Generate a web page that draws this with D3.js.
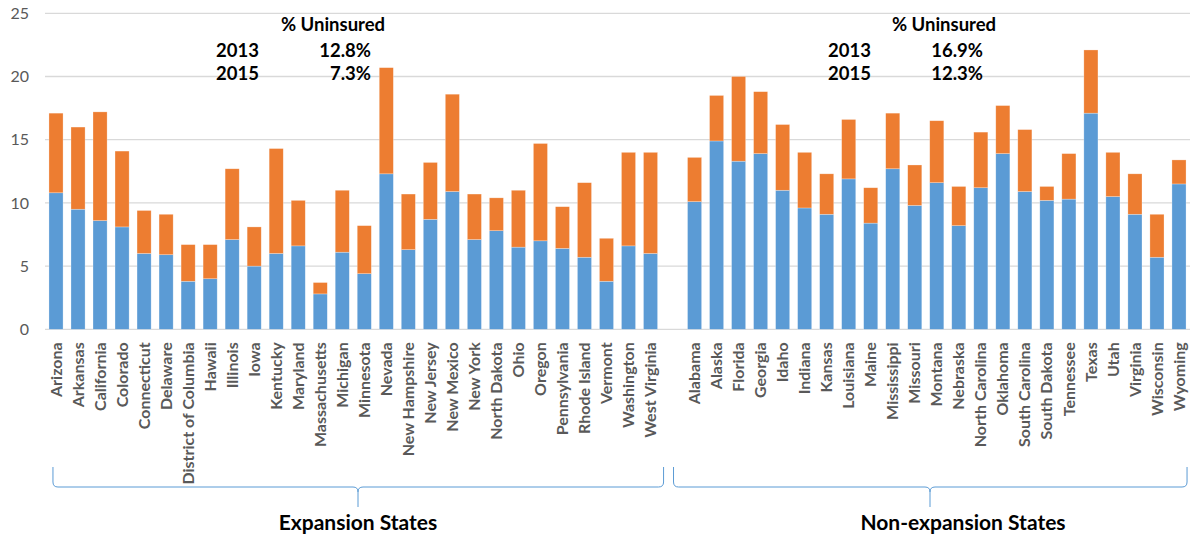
<!DOCTYPE html>
<html>
<head>
<meta charset="utf-8">
<script src="https://cdn.jsdelivr.net/npm/d3@7"></script>
<style>
  html, body { margin: 0; padding: 0; background: #fff; }
  svg { display: block; }
  text { font-family: Lato, "Open Sans", sans-serif; }
</style>
</head>
<body>
<svg id="chart" width="1193" height="535"></svg>
<script>
// Uninsured rate (%) by state, 2013 and 2015
const expansionStates = ["Arizona","Arkansas","California","Colorado","Connecticut","Delaware","District of Columbia","Hawaii","Illinois","Iowa","Kentucky","Maryland","Massachusetts","Michigan","Minnesota","Nevada","New Hampshire","New Jersey","New Mexico","New York","North Dakota","Ohio","Oregon","Pennsylvania","Rhode Island","Vermont","Washington","West Virginia"];
const expansion2013 = [17.1,16.0,17.2,14.1,9.4,9.1,6.7,6.7,12.7,8.1,14.3,10.2,3.7,11.0,8.2,20.7,10.7,13.2,18.6,10.7,10.4,11.0,14.7,9.7,11.6,7.2,14.0,14.0];
const expansion2015 = [10.8,9.5,8.6,8.1,6.0,5.9,3.8,4.0,7.1,5.0,6.0,6.6,2.8,6.1,4.4,12.3,6.3,8.7,10.9,7.1,7.8,6.5,7.0,6.4,5.7,3.8,6.6,6.0];

const nonExpansionStates = ["Alabama","Alaska","Florida","Georgia","Idaho","Indiana","Kansas","Louisiana","Maine","Mississippi","Missouri","Montana","Nebraska","North Carolina","Oklahoma","South Carolina","South Dakota","Tennessee","Texas","Utah","Virginia","Wisconsin","Wyoming"];
const nonExpansion2013 = [13.6,18.5,20.0,18.8,16.2,14.0,12.3,16.6,11.2,17.1,13.0,16.5,11.3,15.6,17.7,15.8,11.3,13.9,22.1,14.0,12.3,9.1,13.4];
const nonExpansion2015 = [10.1,14.9,13.3,13.9,11.0,9.6,9.1,11.9,8.4,12.7,9.8,11.6,8.2,11.2,13.9,10.9,10.2,10.3,17.1,10.5,9.1,5.7,11.5];

const yTicks = [0,5,10,15,20,25];
const groupTitles = ["Expansion States","Non-expansion States"];
const summaryYears = ["2013","2015"];
const expansionSummary = ["12.8%","7.3%"];
const nonExpansionSummary = ["16.9%","12.3%"];

const BLUE = "#5B9BD5", ORANGE = "#ED7D31";

// one empty slot separates the two groups
const GAP = "__gap__";
const rows = [
  ...expansionStates.map((s, i) => ({state: s, v2013: expansion2013[i], v2015: expansion2015[i]})),
  ...nonExpansionStates.map((s, i) => ({state: s, v2013: nonExpansion2013[i], v2015: nonExpansion2015[i]}))
];
const domain = [...expansionStates, GAP, ...nonExpansionStates];

const svg = d3.select("#chart");
const plot = {left: 45, right: 1190, top: 13.3, bottom: 329.3};

const x = d3.scaleBand().domain(domain).range([plot.left, plot.right]).paddingInner(0.36).paddingOuter(0.18);
const y = d3.scaleLinear().domain([0, 25]).range([plot.bottom, plot.top]);

// gridlines
svg.append("g").selectAll("line").data(yTicks).join("line")
  .attr("x1", plot.left).attr("x2", plot.right)
  .attr("y1", d => y(d)).attr("y2", d => y(d))
  .attr("stroke", "#D9D9D9").attr("stroke-width", 1.3);

// y axis labels
const yAxis = svg.append("g").attr("transform", `translate(${plot.left - 16},0)`)
  .call(d3.axisLeft(y).tickValues(yTicks).tickSize(0).tickPadding(0));
yAxis.select(".domain").remove();
yAxis.selectAll("text").attr("fill", "#595959").style("font-size", "16px")
  .style("font-family", "Lato, sans-serif");

// stacked bars: 2015 rate (blue) plus the drop since 2013 (orange)
const stack = d3.stack().keys(["v2015", "drop"])
  (rows.map(r => ({state: r.state, v2015: r.v2015, drop: +(r.v2013 - r.v2015).toFixed(1)})));
const colors = [BLUE, ORANGE];
stack.forEach((layer, li) => {
  svg.append("g").selectAll("rect").data(layer).join("rect")
    .attr("x", d => x(d.data.state))
    .attr("width", x.bandwidth())
    .attr("y", d => y(d[1]))
    .attr("height", d => y(d[0]) - y(d[1]))
    .attr("fill", colors[li])
    .attr("stroke", "rgba(255,255,255,0.45)")
    .attr("stroke-width", 0.6);
});

// category labels
const xAxis = svg.append("g").attr("transform", `translate(0,${plot.bottom})`)
  .call(d3.axisBottom(x).tickSize(0).tickFormat(d => d === GAP ? "" : d));
xAxis.select(".domain").remove();
xAxis.selectAll("text")
  .attr("transform", "rotate(-90)")
  .attr("x", -13).attr("y", 0).attr("dy", "0.35em")
  .attr("text-anchor", "end")
  .attr("fill", "#595959")
  .style("font-size", "16px").style("font-weight", "bold")
  .style("font-family", "Lato, sans-serif");

// group braces
function brace(xa, xb, xm) {
  const y0 = 467, y1 = 487, y2 = 507, r = 5;
  return `M${xa},${y0} L${xa},${y1 - r} Q${xa},${y1} ${xa + r},${y1} L${xm - r},${y1} Q${xm},${y1} ${xm},${y1 + r} L${xm},${y2}` +
         ` M${xm},${y1 + r} Q${xm},${y1} ${xm + r},${y1} L${xb - r},${y1} Q${xb},${y1} ${xb},${y1 - r} L${xb},${y0}`;
}
const exFirst = x(expansionStates[0]), exLast = x(expansionStates[expansionStates.length - 1]) + x.bandwidth();
const neFirst = x(nonExpansionStates[0]), neLast = x(nonExpansionStates[nonExpansionStates.length - 1]) + x.bandwidth();
const braces = [
  {a: exFirst + 4, b: exLast + 6, m: 358, title: groupTitles[0], tx: 358},
  {a: neFirst - 14, b: neLast + 1, m: 930, title: groupTitles[1], tx: 963}
];
svg.append("g").selectAll("path").data(braces).join("path")
  .attr("d", d => brace(d.a, d.b, d.m))
  .attr("fill", "none").attr("stroke", BLUE).attr("stroke-width", 1);
svg.append("g").selectAll("text").data(braces).join("text")
  .attr("x", d => d.tx).attr("y", 530)
  .attr("text-anchor", "middle")
  .style("font-size", "21px").style("font-weight", "bold").attr("fill", "#000")
  .text(d => d.title);

// summary annotations
function summary(cx, yearX, valRight, values) {
  const g = svg.append("g").style("font-weight", "bold").style("font-size", "18.5px").attr("fill", "#000");
  g.append("text").attr("x", cx).attr("y", 31).attr("text-anchor", "middle").text("% Uninsured");
  summaryYears.forEach((yr, i) => {
    g.append("text").attr("x", yearX).attr("y", 57 + i * 23).text(yr);
    g.append("text").attr("x", valRight).attr("y", 57 + i * 23).attr("text-anchor", "end").text(values[i]);
  });
}
summary(333, 216, 371, expansionSummary);
summary(944, 828, 983, nonExpansionSummary);
</script>
</body>
</html>
